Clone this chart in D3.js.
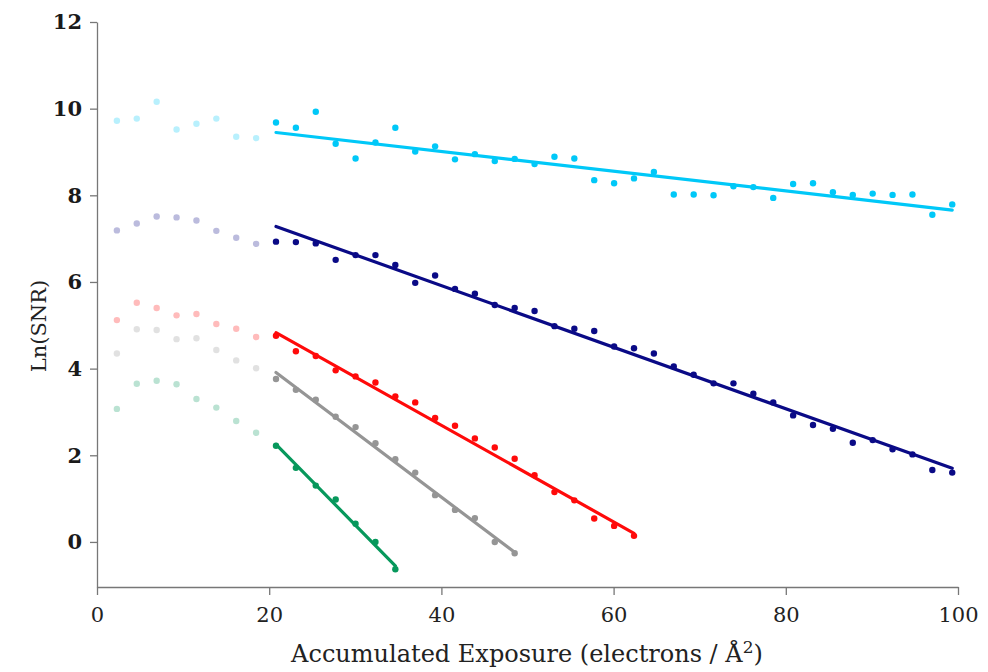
<!DOCTYPE html>
<html>
<head>
  <meta charset="utf-8">
  <title>Ln(SNR) vs accumulated exposure</title>
  <script src="https://d3js.org/d3.v7.min.js"></script>
  <style>
    body { margin: 0; background: #fff; }
    .axis path, .axis line { stroke: #777; stroke-width: 1.3px; }
  </style>
</head>
<body>
<script>
  // exposure per frame (electrons / A^2)
  const exposure = [2.31, 4.62, 6.93, 9.24, 11.55, 13.86, 16.17, 18.48, 20.79, 23.10,
    25.41, 27.72, 30.03, 32.34, 34.65, 36.96, 39.27, 41.58, 43.89, 46.20,
    48.51, 50.82, 53.13, 55.44, 57.75, 60.06, 62.37, 64.68, 66.99, 69.30,
    71.61, 73.92, 76.23, 78.54, 80.85, 83.16, 85.47, 87.78, 90.09, 92.40,
    94.71, 97.02, 99.33];

  // first 8 frames are drawn faded (not used in fit)
  const nFaded = 8;

  const cyanVals = [9.72, 9.77, 10.16, 9.52, 9.65, 9.77, 9.35, 9.32,
    9.68, 9.56, 9.93, 9.19, 8.85, 9.22, 9.56, 9.01, 9.13, 8.83, 8.95, 8.79, 8.84, 8.72, 8.89, 8.85, 8.35, 8.28, 8.39,
    8.54, 8.02, 8.02, 8.00, 8.21, 8.19, 7.94, 8.26, 8.28, 8.07, 8.01, 8.04, 8.01, 8.02, 7.55, 7.79];
  const navyVals = [7.19, 7.35, 7.51, 7.49, 7.42, 7.18, 7.02, 6.88,
    6.93, 6.92, 6.89, 6.51, 6.62, 6.62, 6.39, 5.98, 6.15, 5.84, 5.73, 5.47, 5.40, 5.33, 4.98, 4.92, 4.87, 4.51, 4.47,
    4.35, 4.05, 3.86, 3.66, 3.66, 3.42, 3.22, 2.92, 2.70, 2.61, 2.29, 2.35, 2.14, 2.02, 1.66, 1.60];
  const redVals = [5.12, 5.52, 5.40, 5.23, 5.26, 5.03, 4.92, 4.73,
    4.76, 4.40, 4.29, 3.96, 3.82, 3.68, 3.36, 3.22, 2.86, 2.68, 2.39, 2.18, 1.92, 1.54, 1.15, 0.96, 0.54, 0.37, 0.14];
  const greyVals = [4.35, 4.91, 4.89, 4.68, 4.70, 4.43, 4.19, 4.01,
    3.76, 3.51, 3.28, 2.89, 2.65, 2.28, 1.91, 1.60, 1.08, 0.74, 0.55, 0.00, -0.26];
  const greenVals = [3.07, 3.65, 3.72, 3.64, 3.30, 3.10, 2.79, 2.52,
    2.22, 1.71, 1.30, 0.98, 0.42, 0.00, -0.63];

  // fitted lines: [x0, y0, x1, y1]
  const cyanFit = [20.79, 9.45, 99.33, 7.66];
  const navyFit = [20.79, 7.28, 99.33, 1.70];
  const redFit = [20.79, 4.83, 62.37, 0.20];
  const greyFit = [20.79, 3.91, 48.51, -0.24];
  const greenFit = [20.79, 2.25, 34.65, -0.55];

  const xTicks = [0, 20, 40, 60, 80, 100];
  const yTicks = [0, 2, 4, 6, 8, 10, 12];

  const series = [
    {vals: cyanVals, fit: cyanFit, color: "#00c8f8"},
    {vals: navyVals, fit: navyFit, color: "#0a0a86"},
    {vals: redVals, fit: redFit, color: "#ff0a0a"},
    {vals: greyVals, fit: greyFit, color: "#959595"},
    {vals: greenVals, fit: greenFit, color: "#07985c"}
  ];

  const serif = "'DejaVu Serif', 'Liberation Serif', serif";

  const W = 988, H = 672;
  const svg = d3.select("body").append("svg")
    .attr("width", W)
    .attr("height", H);

  const x = d3.scaleLinear().domain([0, 100]).range([97, 958]);
  const y = d3.scaleLinear().domain([-1.04, 12]).range([587, 22]);

  // axes
  svg.append("g")
    .attr("class", "axis")
    .attr("transform", "translate(0,587)")
    .call(d3.axisBottom(x).tickValues(xTicks).tickSize(8).tickSizeOuter(0).tickPadding(12))
    .call(g => g.selectAll("text")
      .style("font-family", serif)
      .style("font-size", "21px")
      .style("fill", "#222"));

  svg.append("g")
    .attr("class", "axis")
    .attr("transform", "translate(97,0)")
    .call(d3.axisLeft(y).tickValues(yTicks).tickSize(7).tickSizeOuter(0).tickPadding(8))
    .call(g => g.selectAll("text")
      .style("font-family", serif)
      .style("font-size", "21px")
      .style("font-weight", "600")
      .style("fill", "#1a1a1a"));

  // lines + points
  series.forEach(s => {
    const pts = s.vals.map((v, i) => ({x: exposure[i], y: v, faded: i < nFaded}));
    const g = svg.append("g");

    g.append("line")
      .attr("x1", x(s.fit[0])).attr("y1", y(s.fit[1]))
      .attr("x2", x(s.fit[2])).attr("y2", y(s.fit[3]))
      .attr("stroke", s.color)
      .attr("stroke-width", 3.2)
      .attr("stroke-linecap", "round");

    g.selectAll("circle")
      .data(pts)
      .enter()
      .append("circle")
      .attr("cx", d => x(d.x))
      .attr("cy", d => y(d.y))
      .attr("r", 3.2)
      .attr("fill", s.color)
      .attr("opacity", d => d.faded ? 0.28 : 1);
  });

  // titles
  svg.append("text")
    .attr("x", 527)
    .attr("y", 662)
    .attr("text-anchor", "middle")
    .style("font-family", serif)
    .style("font-size", "24px")
    .style("fill", "#222")
    .html('Accumulated Exposure (electrons / Å<tspan dy="-9" font-size="17">2</tspan><tspan dy="9">)</tspan>');

  svg.append("text")
    .attr("transform", "translate(46,326) rotate(-90)")
    .attr("text-anchor", "middle")
    .style("font-family", serif)
    .style("font-size", "21px")
    .style("fill", "#222")
    .text("Ln(SNR)");
</script>
</body>
</html>
